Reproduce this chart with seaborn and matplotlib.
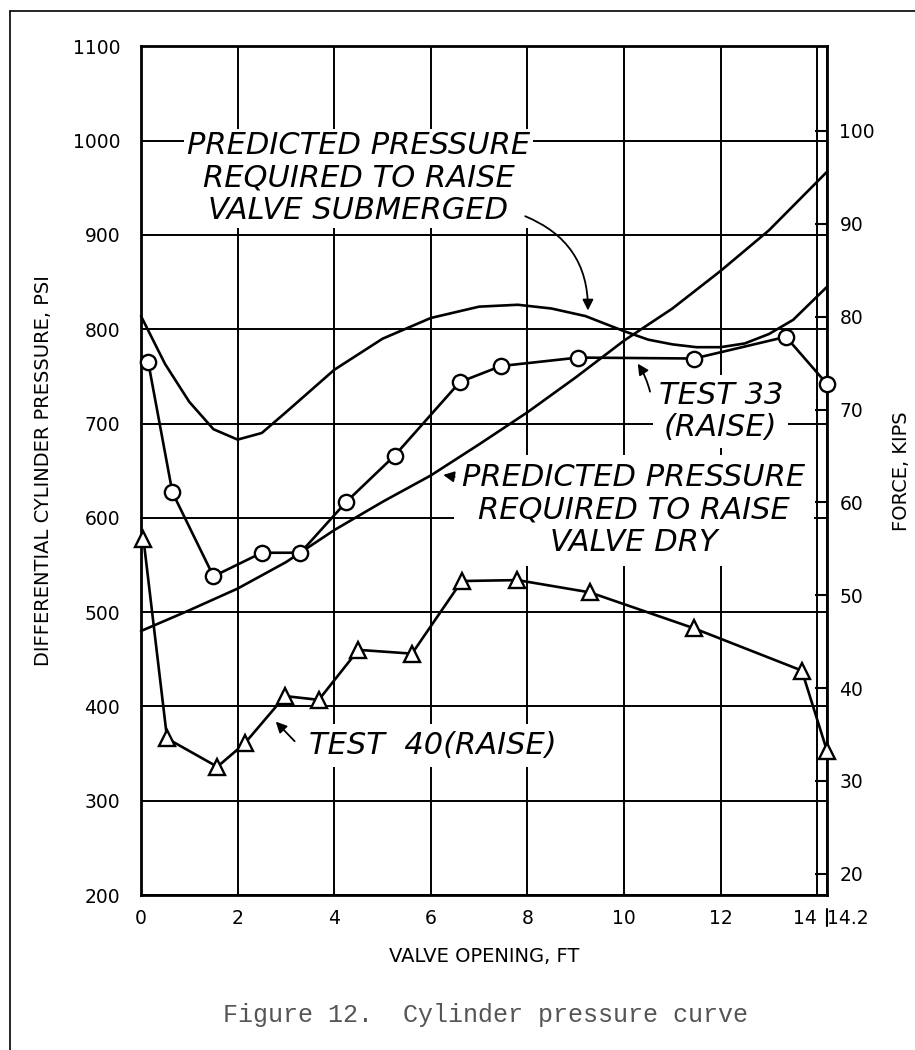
import numpy as np
import pandas as pd
import seaborn as sns
import matplotlib.pyplot as plt
from matplotlib.lines import Line2D

# datos (abertura en pies, presion en psi)
t33_x = [0.15, 0.65, 1.5, 2.5, 3.3, 4.25, 5.25, 6.6, 7.45, 9.05, 11.45, 13.35, 14.2]
t33_psi = [765, 627, 538, 563, 563, 617, 666, 744, 761, 770, 769, 792, 742]

t40_x = [0.05, 0.54, 1.58, 2.15, 2.98, 3.68, 4.5, 5.61, 6.64, 7.79, 9.29, 11.44, 13.68, 14.2]
t40_psi = [578, 366, 336, 361, 411, 407, 460, 456, 533, 534, 521, 483, 438, 353]

sub_x = [0, 0.5, 1, 1.5, 2, 2.5, 3, 4, 5, 6, 7, 7.8, 8.5, 9.2, 10, 10.5, 11, 11.5, 12, 12.5, 13, 13.5, 14.2]
sub_psi = [814, 763, 723, 694, 683, 690, 712, 757, 790, 812, 824, 826, 822, 814, 798, 789, 784, 781, 781, 785, 795, 810, 845]

dry_x = [0, 1, 2, 3, 4, 5, 6, 7, 8, 9, 10, 11, 12, 13, 14.2]
dry_psi = [480, 502, 525, 553, 587, 617, 645, 678, 712, 749, 788, 822, 862, 905, 967]

x_ticks = [0, 2, 4, 6, 8, 10, 12, 14, 14.2]
x_labels = ["0", "2", "4", "6", "8", "10", "12", "14", "14.2"]
psi_ticks = list(range(200, 1101, 100))
kips_ticks = list(range(20, 101, 10))

sns.set_style("white")
plt.rcParams["font.family"] = ["DejaVu Sans"]
plt.rcParams["text.color"] = "black"
plt.rcParams["axes.labelcolor"] = "black"
plt.rcParams["xtick.color"] = "black"
plt.rcParams["ytick.color"] = "black"

fig = plt.figure(figsize=(9.15, 10.5), dpi=100)
ax = fig.add_axes([0.1541, 0.1476, 0.7497, 0.8082])

ax.set_xlim(0, 14.2)
ax.set_ylim(200, 1100)
ax.set_xticks(x_ticks)
ax.set_xticklabels(x_labels)
ax.set_yticks(psi_ticks)
ax.tick_params(axis="both", length=0, labelsize=13.5)
ax.tick_params(axis="y", pad=15)
ax.tick_params(axis="x", pad=10)
lbls = ax.get_xticklabels()
lbls[-1].set_horizontalalignment("left")
lbls[-2].set_horizontalalignment("right")
ax.grid(True, color="black", linewidth=1.4, zorder=0)
ax.set_axisbelow(True)
for s in ax.spines.values():
    s.set_linewidth(2.0)
    s.set_color("black")

line_kw = dict(color="black", linewidth=1.9, clip_on=False, estimator=None, sort=False)
sns.lineplot(x=sub_x, y=sub_psi, ax=ax, zorder=4, **line_kw)
sns.lineplot(x=dry_x, y=dry_psi, ax=ax, zorder=4, **line_kw)
sns.lineplot(x=t33_x, y=t33_psi, ax=ax, marker="o", markersize=11,
             markerfacecolor="white", markeredgecolor="black", markeredgewidth=1.7,
             zorder=5, **line_kw)
sns.lineplot(x=t40_x, y=t40_psi, ax=ax, marker="^", markersize=11,
             markerfacecolor="white", markeredgecolor="black", markeredgewidth=1.7,
             zorder=5, **line_kw)

# textos con fondo blanco (cortan la cuadricula)
tkw = dict(fontsize=22, style="italic", ha="center", va="center",
           linespacing=1.15, zorder=2)
ax.text(4.5, 960, "PREDICTED PRESSURE\nREQUIRED TO RAISE\nVALVE SUBMERGED",
        bbox=dict(facecolor="white", edgecolor="none", pad=2), **tkw)
ax.text(10.2, 608, "PREDICTED PRESSURE\nREQUIRED TO RAISE\nVALVE DRY",
        bbox=dict(facecolor="white", edgecolor="none", pad=6), **tkw)
ax.text(12.0, 713, "TEST 33\n(RAISE)",
        bbox=dict(facecolor="white", edgecolor="none", pad=4), **tkw)
ax.text(6.05, 359, "TEST  40(RAISE)",
        bbox=dict(facecolor="white", edgecolor="none", pad=5), **tkw)

akw = dict(arrowstyle="-|>", color="black", lw=1.3, mutation_scale=16)
ax.annotate("", xy=(9.25, 817), xytext=(7.9, 921),
            arrowprops=dict(connectionstyle="arc3,rad=-0.35", **akw), zorder=6)
ax.annotate("", xy=(10.25, 766), xytext=(10.55, 731),
            arrowprops=dict(connectionstyle="arc3,rad=0.1", **akw), zorder=6)
ax.annotate("", xy=(6.2, 646), xytext=(6.55, 643),
            arrowprops=dict(connectionstyle="arc3,rad=0", **akw), zorder=6)
ax.annotate("", xy=(2.75, 386), xytext=(3.22, 361),
            arrowprops=dict(connectionstyle="arc3,rad=0", **akw), zorder=6)

ax.set_xlabel("VALVE OPENING, FT", fontsize=14, labelpad=14)
ax.set_ylabel("DIFFERENTIAL CYLINDER PRESSURE, PSI", fontsize=14, labelpad=14)

# eje derecho en kips
ax2 = ax.twinx()
ax2.set_ylim(17.72, 109.1)
ax2.set_yticks(kips_ticks)
ax2.tick_params(axis="y", direction="in", length=9, width=1.5, labelsize=13.5, pad=9)
ax2.grid(False)
for s in ax2.spines.values():
    s.set_visible(False)
ax2.set_ylabel("FORCE, KIPS", fontsize=14, labelpad=12)

# marca vertical entre 14 y 14.2
ax.add_line(Line2D([14.2, 14.2], [-0.017, -0.036], transform=ax.get_xaxis_transform(),
                   color="black", linewidth=1.5, clip_on=False))

# marco de la pagina
fig.add_artist(Line2D([0.011, 0.011], [0, 0.9895], color="black", linewidth=1.2))
fig.add_artist(Line2D([0.011, 1.0], [0.9895, 0.9895], color="black", linewidth=1.2))

fig.text(0.531, 0.0333, "Figure 12.  Cylinder pressure curve", fontsize=18,
         family="Liberation Mono", color="#555555", ha="center", va="center")

fig.savefig("out.png", dpi=100)
